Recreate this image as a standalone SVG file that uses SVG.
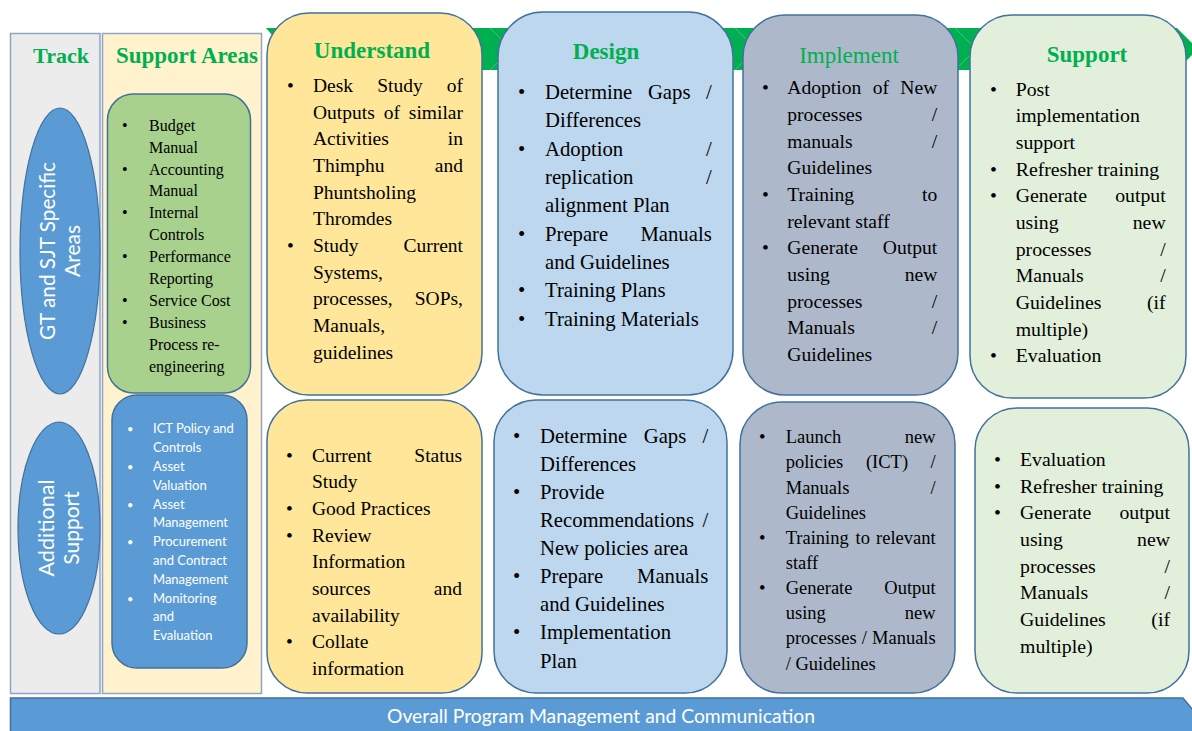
<svg xmlns="http://www.w3.org/2000/svg" width="1192" height="731" viewBox="0 0 1192 731">
<style>
.t text{font-family:"Liberation Serif","Times New Roman",serif;fill:#000}
.ttl{font-family:"Liberation Serif","Times New Roman",serif;fill:#00b050;font-weight:bold;font-size:23px;text-anchor:middle}
.sans{font-family:Lato,"Open Sans",sans-serif;fill:#fff}
.e{text-anchor:end}
.m{text-anchor:middle}
.card{stroke:#41719c;stroke-width:1.5}
.panel{stroke:#8ea5c8;stroke-width:1.5}
.chev{fill:#00b050}
</style>
<rect width="1192" height="731" fill="#ffffff"/>

<g id="track-panel">
<rect class="panel" x="10.5" y="33.5" width="89.5" height="660" fill="#ececec"/>
<text class="ttl" x="61" y="63" style="font-size:22px">Track</text>
</g>
<g id="support-areas-panel">
<rect class="panel" x="102.5" y="33.5" width="159" height="660" fill="#fff2cc"/>
<text class="ttl" x="187" y="63">Support Areas</text>
</g>

<g id="connectors">
<polygon class="chev" points="266,28 490,28 511,49 490,70 266,70 284,49"/>
<polygon class="chev" points="490,28 735,28 756,49 735,70 490,70 511,49"/>
<polygon class="chev" points="735,28 955,28 976,49 955,70 735,70 756,49"/>
<polygon class="chev" points="955,28 1177,28 1198,49 1177,70 955,70 976,49"/>
</g>

<g id="track-gt-sjt">
<ellipse cx="60" cy="251" rx="40" ry="143" fill="#5b9bd5" stroke="#41719c" stroke-width="1.2"/>
<g transform="translate(60,251) rotate(-90)" style="font-size:21px">
<text class="sans m" x="0" y="-5" textLength="178" lengthAdjust="spacingAndGlyphs">GT and SJT Specific</text>
<text class="sans m" x="0" y="20">Areas</text>
</g>
</g>
<g id="track-additional">
<ellipse cx="59" cy="528" rx="41" ry="106" fill="#5b9bd5" stroke="#41719c" stroke-width="1.2"/>
<g transform="translate(59,528) rotate(-90)" style="font-size:21px">
<text class="sans m" x="0" y="-5" textLength="97" lengthAdjust="spacingAndGlyphs">Additional</text>
<text class="sans m" x="0" y="20">Support</text>
</g>
</g>

<g id="support-areas-gt">
<rect class="card" x="107.5" y="94" width="143" height="299" rx="26" fill="#a9d18e"/>
<g class="t" style="font-size:16px">
<text x="122" y="130.7">•</text><text x="149" y="130.7">Budget</text>
<text x="149" y="152.6">Manual</text>
<text x="122" y="174.5">•</text><text x="149" y="174.5">Accounting</text>
<text x="149" y="196.4">Manual</text>
<text x="122" y="218.3">•</text><text x="149" y="218.3">Internal</text>
<text x="149" y="240.2">Controls</text>
<text x="122" y="262.1">•</text><text x="149" y="262.1">Performance</text>
<text x="149" y="284">Reporting</text>
<text x="122" y="305.9">•</text><text x="149" y="305.9">Service Cost</text>
<text x="122" y="327.8">•</text><text x="149" y="327.8">Business</text>
<text x="149" y="349.7">Process re-</text>
<text x="149" y="371.6">engineering</text>
</g>
</g>

<g id="support-areas-additional">
<rect class="card" x="112" y="395" width="135" height="273" rx="25" fill="#5b9bd5"/>
<g style="font-size:13px">
<text class="sans" x="127" y="433.3" style="font-size:11px">•</text><text class="sans" x="153" y="433.3">ICT Policy and</text>
<text class="sans" x="153" y="452.1">Controls</text>
<text class="sans" x="127" y="470.9" style="font-size:11px">•</text><text class="sans" x="153" y="470.9">Asset</text>
<text class="sans" x="153" y="489.7">Valuation</text>
<text class="sans" x="127" y="508.5" style="font-size:11px">•</text><text class="sans" x="153" y="508.5">Asset</text>
<text class="sans" x="153" y="527.3">Management</text>
<text class="sans" x="127" y="546.1" style="font-size:11px">•</text><text class="sans" x="153" y="546.1">Procurement</text>
<text class="sans" x="153" y="564.9">and Contract</text>
<text class="sans" x="153" y="583.7">Management</text>
<text class="sans" x="127" y="602.5" style="font-size:11px">•</text><text class="sans" x="153" y="602.5">Monitoring</text>
<text class="sans" x="153" y="621.3">and</text>
<text class="sans" x="153" y="640.1">Evaluation</text>
</g>
</g>

<g id="understand-top">
<rect class="card" x="267" y="13" width="215" height="382" rx="42" fill="#ffe699"/>
<text class="ttl" x="372" y="58">Understand</text>
<g class="t" style="font-size:19.5px">
<text x="287" y="92">•</text><text x="287" y="252">•</text>
<text x="313" y="92">Desk</text><text x="400" y="92" class="m">Study</text><text x="463" y="92" class="e">of</text>
<text x="313" y="118.7">Outputs</text><text x="391.8" y="118.7" class="m">of</text><text x="463" y="118.7" class="e">similar</text>
<text x="313" y="145.3">Activities</text><text x="463" y="145.3" class="e">in</text>
<text x="313" y="172">Thimphu</text><text x="463" y="172" class="e">and</text>
<text x="313" y="198.7">Phuntsholing</text>
<text x="313" y="225.3">Thromdes</text>
<text x="313" y="252">Study</text><text x="463" y="252" class="e">Current</text>
<text x="313" y="278.7">Systems,</text>
<text x="313" y="305.3">processes,</text><text x="463" y="305.3" class="e">SOPs,</text>
<text x="313" y="332">Manuals,</text>
<text x="313" y="358.7">guidelines</text>
</g>
</g>

<g id="understand-bottom">
<rect class="card" x="267" y="400" width="215" height="293" rx="40" fill="#ffe699"/>
<g class="t" style="font-size:19.5px">
<text x="286" y="461.7">•</text><text x="286" y="515">•</text><text x="286" y="541.7">•</text><text x="286" y="648.3">•</text>
<text x="312" y="461.7">Current</text><text x="462" y="461.7" class="e">Status</text>
<text x="312" y="488.3">Study</text>
<text x="312" y="515">Good Practices</text>
<text x="312" y="541.7">Review</text>
<text x="312" y="568.3">Information</text>
<text x="312" y="595">sources</text><text x="462" y="595" class="e">and</text>
<text x="312" y="621.7">availability</text>
<text x="312" y="648.3">Collate</text>
<text x="312" y="675">information</text>
</g>
</g>

<g id="design-top">
<rect class="card" x="498" y="12" width="235" height="383" rx="45" fill="#bdd7ee"/>
<text class="ttl" x="606" y="59.3">Design</text>
<g class="t" style="font-size:20.7px">
<text x="518" y="99">•</text><text x="518" y="155.7">•</text><text x="518" y="240.7">•</text><text x="518" y="297.3">•</text><text x="518" y="325.7">•</text>
<text x="545" y="99">Determine</text><text x="669.2" y="99" class="m">Gaps</text><text x="711.7" y="99" class="e">/</text>
<text x="545" y="127.3">Differences</text>
<text x="545" y="155.7">Adoption</text><text x="711.7" y="155.7" class="e">/</text>
<text x="545" y="184">replication</text><text x="711.7" y="184" class="e">/</text>
<text x="545" y="212.3">alignment Plan</text>
<text x="545" y="240.7">Prepare</text><text x="711.7" y="240.7" class="e">Manuals</text>
<text x="545" y="269">and Guidelines</text>
<text x="545" y="297.3">Training Plans</text>
<text x="545" y="325.7">Training Materials</text>
</g>
</g>

<g id="design-bottom">
<rect class="card" x="494" y="400" width="233" height="293" rx="42" fill="#bdd7ee"/>
<g class="t" style="font-size:20.7px">
<text x="513" y="442.7">•</text><text x="513" y="498.9">•</text><text x="513" y="583.2">•</text><text x="513" y="639.4">•</text>
<text x="540" y="442.7">Determine</text><text x="665" y="442.7" class="m">Gaps</text><text x="708.3" y="442.7" class="e">/</text>
<text x="540" y="470.8">Differences</text>
<text x="540" y="498.9">Provide</text>
<text x="540" y="527">Recommendations</text><text x="708.3" y="527" class="e">/</text>
<text x="540" y="555.1">New policies area</text>
<text x="540" y="583.2">Prepare</text><text x="708.3" y="583.2" class="e">Manuals</text>
<text x="540" y="611.3">and Guidelines</text>
<text x="540" y="639.4">Implementation</text>
<text x="540" y="667.5">Plan</text>
</g>
</g>

<g id="implement-top">
<rect class="card" x="743" y="15" width="215" height="380" rx="42" fill="#adb9ca"/>
<text class="ttl" x="849" y="62.5" style="font-weight:normal">Implement</text>
<g class="t" style="font-size:19.6px">
<text x="762" y="94.3">•</text><text x="762" y="201">•</text><text x="762" y="254.3">•</text>
<text x="787.3" y="94.3">Adoption</text><text x="880.8" y="94.3" class="m">of</text><text x="937.3" y="94.3" class="e">New</text>
<text x="787.3" y="121">processes</text><text x="937.3" y="121" class="e">/</text>
<text x="787.3" y="147.7">manuals</text><text x="937.3" y="147.7" class="e">/</text>
<text x="787.3" y="174.3">Guidelines</text>
<text x="787.3" y="201">Training</text><text x="937.3" y="201" class="e">to</text>
<text x="787.3" y="227.7">relevant staff</text>
<text x="787.3" y="254.3">Generate</text><text x="937.3" y="254.3" class="e">Output</text>
<text x="787.3" y="281">using</text><text x="937.3" y="281" class="e">new</text>
<text x="787.3" y="307.7">processes</text><text x="937.3" y="307.7" class="e">/</text>
<text x="787.3" y="334.3">Manuals</text><text x="937.3" y="334.3" class="e">/</text>
<text x="787.3" y="361">Guidelines</text>
</g>
</g>

<g id="implement-bottom">
<rect class="card" x="740" y="402" width="215" height="291" rx="42" fill="#adb9ca"/>
<g class="t" style="font-size:18.5px">
<text x="759" y="443.3">•</text><text x="759" y="543.8">•</text><text x="759" y="594.1">•</text>
<text x="785.7" y="443.3">Launch</text><text x="935.7" y="443.3" class="e">new</text>
<text x="785.7" y="468.4">policies</text><text x="887" y="468.4" class="m">(ICT)</text><text x="935.7" y="468.4" class="e">/</text>
<text x="785.7" y="493.6">Manuals</text><text x="935.7" y="493.6" class="e">/</text>
<text x="785.7" y="518.7">Guidelines</text>
<text x="785.7" y="543.8">Training</text><text x="862.8" y="543.8" class="m">to</text><text x="935.7" y="543.8" class="e">relevant</text>
<text x="785.7" y="569">staff</text>
<text x="785.7" y="594.1">Generate</text><text x="935.7" y="594.1" class="e">Output</text>
<text x="785.7" y="619.2">using</text><text x="935.7" y="619.2" class="e">new</text>
<text x="785.7" y="644.3">processes</text><text x="864.3" y="644.3" class="m">/</text><text x="935.7" y="644.3" class="e">Manuals</text>
<text x="785.7" y="669.5">/ Guidelines</text>
</g>
</g>

<g id="support-top">
<rect class="card" x="970" y="15" width="216" height="383" rx="42" fill="#e2efda"/>
<text class="ttl" x="1087" y="61.7">Support</text>
<g class="t" style="font-size:19.8px">
<text x="990" y="95.7">•</text><text x="990" y="175.7">•</text><text x="990" y="202.3">•</text><text x="990" y="362.3">•</text>
<text x="1015.7" y="95.7">Post</text>
<text x="1015.7" y="122.3">implementation</text>
<text x="1015.7" y="149">support</text>
<text x="1015.7" y="175.7">Refresher training</text>
<text x="1015.7" y="202.3">Generate</text><text x="1165.7" y="202.3" class="e">output</text>
<text x="1015.7" y="229">using</text><text x="1165.7" y="229" class="e">new</text>
<text x="1015.7" y="255.7">processes</text><text x="1165.7" y="255.7" class="e">/</text>
<text x="1015.7" y="282.3">Manuals</text><text x="1165.7" y="282.3" class="e">/</text>
<text x="1015.7" y="309">Guidelines</text><text x="1165.7" y="309" class="e">(if</text>
<text x="1015.7" y="335.7">multiple)</text>
<text x="1015.7" y="362.3">Evaluation</text>
</g>
</g>

<g id="support-bottom">
<rect class="card" x="975" y="408" width="214" height="285" rx="42" fill="#e2efda"/>
<g class="t" style="font-size:19.8px">
<text x="994" y="466">•</text><text x="994" y="492.7">•</text><text x="994" y="519.3">•</text>
<text x="1020" y="466">Evaluation</text>
<text x="1020" y="492.7">Refresher training</text>
<text x="1020" y="519.3">Generate</text><text x="1170" y="519.3" class="e">output</text>
<text x="1020" y="546">using</text><text x="1170" y="546" class="e">new</text>
<text x="1020" y="572.7">processes</text><text x="1170" y="572.7" class="e">/</text>
<text x="1020" y="599.3">Manuals</text><text x="1170" y="599.3" class="e">/</text>
<text x="1020" y="626">Guidelines</text><text x="1170" y="626" class="e">(if</text>
<text x="1020" y="652.7">multiple)</text>
</g>
</g>

<g id="program-management">
<polygon points="10.5,698 1183,698 1198,716 1198,740 10.5,740" fill="#5b9bd5" stroke="#41719c" stroke-width="1.5"/>
<text class="sans m" x="601" y="723.3" style="font-size:19.5px" textLength="428" lengthAdjust="spacingAndGlyphs">Overall Program Management and Communication</text>
</g>
</svg>
